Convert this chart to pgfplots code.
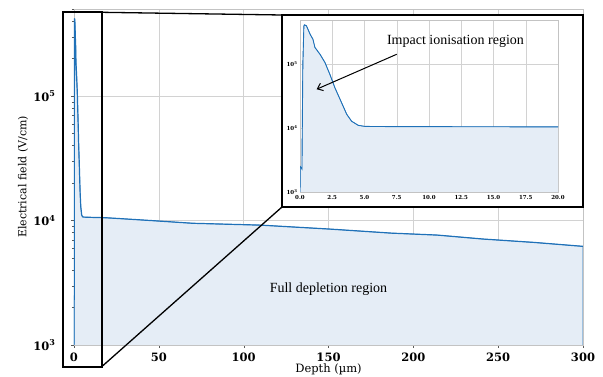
\documentclass[border=0pt]{standalone}
\usepackage{pgfplots}
\pgfplotsset{compat=1.18}
\usepackage{pgfplotstable}
\usepackage{fontspec}
\setmainfont{DejaVu Serif}
\newfontfamily\tms{Liberation Serif}
\usetikzlibrary{arrows.meta}
\definecolor{lineblue}{RGB}{31,113,184}
\definecolor{fillblue}{RGB}{229,237,246}
\definecolor{gridgray}{RGB}{210,210,210}
\definecolor{framegray}{RGB}{195,195,195}

\pgfplotstableread{
x y
0 1000
0.02 2500
0.1 2400
0.15 2300
0.22 100000
0.3 400000
0.34 420000
0.5 405000
0.78 300000
1.0 250000
1.16 185000
1.55 145000
1.94 107000
2.33 69000
2.71 43000
3.23 25000
3.62 16600
4.0 12900
4.52 11100
5.04 10700
6 10650
10 10600
16 10550
20 10500
30 10300
45 10000
70 9500
110 9180
151 8530
187 7920
214 7640
241 7100
271 6670
300 6200
}\efield

\begin{document}
\begin{tikzpicture}[x=1pt,y=1pt]
\useasboundingbox (0,0) rectangle (603,376);
\begin{axis}[
  at={(74pt,31pt)}, anchor=south west,
  scale only axis, width=509pt, height=336pt,
  xmin=0, xmax=300, ymode=log, ymin=1000, ymax=5e5,
  xtick={0,50,...,300},
  ytick={1000,10000,100000},
  yticklabels={\textbf{10\textsuperscript{3}},\textbf{10\textsuperscript{4}},\textbf{10\textsuperscript{5}}},
  minor ytick={2000,3000,4000,5000,6000,7000,8000,9000,20000,30000,40000,50000,60000,70000,80000,90000,200000,300000,400000,500000},
  /pgf/number format/assume math mode=true,
  tick label style={font=\fontsize{11.5}{13}\selectfont\bfseries},
  yticklabel style={xshift=-12pt},
  xticklabel style={yshift=-1pt},
  xtick pos=left, ytick pos=left,
  tick align=outside, major tick length=3pt, minor tick length=2pt,
  tick style={black!65},
  axis line style={framegray},
  grid=major, major grid style={gridgray, line width=0.6pt},
  xlabel={Depth (\textmu m)},
  ylabel={Electrical field (V/cm)},
  xlabel style={at={(axis description cs:0.5,-0.0714)}, anchor=center, font=\fontsize{11.5}{13}\selectfont},
  ylabel style={at={(axis description cs:-0.1002,0.5)}, anchor=center, font=\fontsize{11}{13}\selectfont},
  clip=true,
]
\addplot[fill=fillblue, draw=lineblue, line width=0.5pt] table[x=x,y=y] {\efield} \closedcycle;
\addplot[lineblue, line width=1.2pt] table[x=x,y=y] {\efield};
\node[font=\tms\fontsize{14}{16}\selectfont] at (axis cs:150,2820) {Full depletion region};
\end{axis}
% inset frame and zoom lines
\draw[black, line width=1.4pt, fill=white] (282,169) rectangle (583,361);
\draw[black, line width=1.9pt] (62.7,9.3) rectangle (101.7,363.7);
\draw[black, line width=1.3pt] (101.7,363.7) -- (282,361);
\draw[black, line width=1.3pt] (101.7,9.3) -- (282,169);
\begin{axis}[
  at={(300pt,184pt)}, anchor=south west,
  scale only axis, width=258pt, height=172pt,
  xmin=0, xmax=20, ymode=log, ymin=1000, ymax=5e5,
  xtick={0,2.5,5,7.5,10,12.5,15,17.5,20},
  xticklabels={0.0,2.5,5.0,7.5,10.0,12.5,15.0,17.5,20.0},
  ytick={1000,10000,100000},
  yticklabels={\textbf{10\textsuperscript{3}},\textbf{10\textsuperscript{4}},\textbf{10\textsuperscript{5}}},
  minor ytick={},
  tick label style={font=\fontsize{5.5}{6}\selectfont\bfseries},
  yticklabel style={xshift=1pt},
  xticklabel style={yshift=0pt},
  xtick pos=left, ytick pos=left,
  major tick length=0pt, minor tick length=0pt,
  axis line style={framegray},
  grid=major, major grid style={gridgray, line width=0.5pt},
]
\addplot[fill=fillblue, draw=lineblue, line width=0.4pt] table[x=x,y=y] {\efield} \closedcycle;
\addplot[lineblue, line width=0.9pt] table[x=x,y=y] {\efield};
\node[font=\tms\fontsize{14}{16}\selectfont] at (axis cs:12.05,2.29e5) {Impact ionisation region};
\draw[-{Straight Barb[length=5pt,width=8pt]}, line width=1pt] (axis cs:7.5,1.45e5) -- (axis cs:1.29,4.1e4);
\end{axis}
\end{tikzpicture}
\end{document}
